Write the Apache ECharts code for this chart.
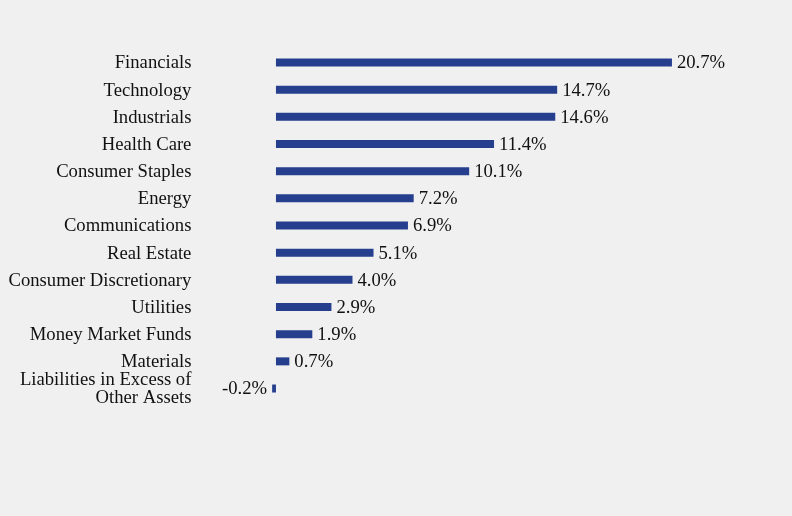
<!DOCTYPE html>
<html><head><meta charset="utf-8">
<script src="https://cdn.jsdelivr.net/npm/echarts@6/dist/echarts.min.js"></script>
<style>html,body{margin:0;padding:0;background:#f0f0f0}#c{width:792px;height:516px}</style>
</head><body><div id="c"></div>
<script>
const categories = ["Financials","Technology","Industrials","Health Care","Consumer Staples","Energy","Communications","Real Estate","Consumer Discretionary","Utilities","Money Market Funds","Materials","Liabilities in Excess of\nOther Assets"];
const values = [20.7,14.7,14.6,11.4,10.1,7.2,6.9,5.1,4.0,2.9,1.9,0.7,-0.2];

const chart = echarts.init(document.getElementById('c'));
chart.setOption({
  backgroundColor:'#f0f0f0',
  animation:false,
  grid:{left:266.4,width:487.8,top:48.9,height:353.2},
  xAxis:{type:'value',min:-0.5,max:25,show:false},
  yAxis:{type:'category',data:categories,inverse:true,
    axisLine:{show:false},axisTick:{show:false},
    axisLabel:{interval:0,margin:75,color:'#111',fontFamily:'Liberation Serif',fontSize:18.67,lineHeight:18,
      formatter:v=>'{a|'+v.split('\n').join('}\n{a|')+'}',
      rich:{a:{fontFamily:'Liberation Serif',fontSize:18.67,lineHeight:18,color:'#111',padding:[2,0,0,0]}}}},
  series:[{type:'bar',data:values.map(v=>({value:v,label:{position:v<0?'left':'right'}})),barWidth:8,
    itemStyle:{color:'#253f8e'},
    label:{show:true,distance:5,offset:[0,1],color:'#111',fontFamily:'Liberation Serif',fontSize:18.67,
      formatter:p=>p.value.toFixed(1)+'%'}}]
});
</script></body></html>
